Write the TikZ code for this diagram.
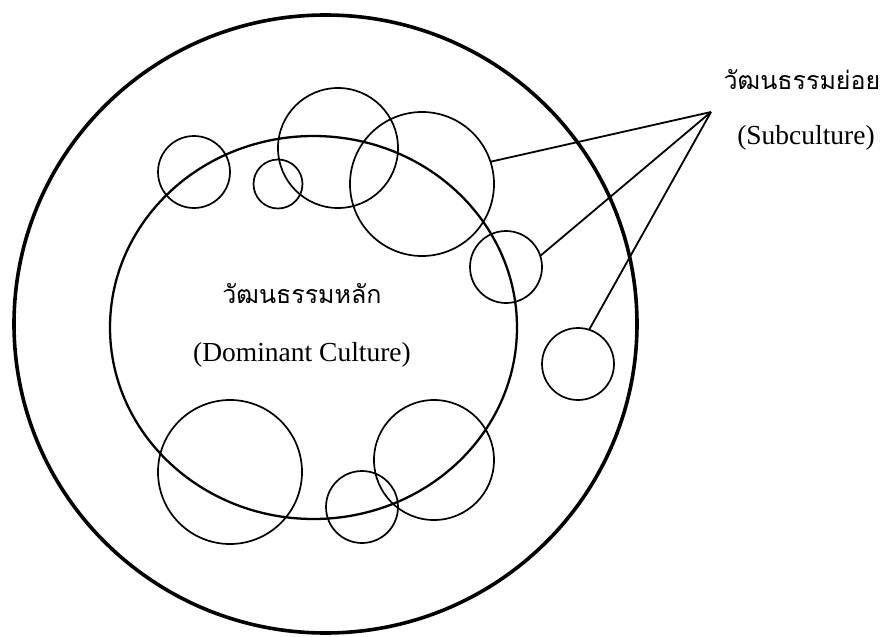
\documentclass[tikz,border=0pt]{standalone}
\usepackage{fontspec}
\setmainfont{Liberation Serif}
\newfontfamily\thaifont[Script=Thai]{Loma}
\usetikzlibrary{shapes.geometric}
\tikzset{
  ring/.style={ellipse,draw=black,inner sep=0pt,outer sep=0pt},
  sub/.style={circle,draw=black,line width=1.7pt,inner sep=0pt,outer sep=0pt,minimum size=#1},
  sub/.default=72pt,
  link/.style={draw=black,line width=1.8pt},
  thai/.style={font=\thaifont\fontsize{25}{29}\selectfont,inner sep=0pt},
  eng/.style={font=\fontsize{27.5}{32}\selectfont,inner sep=0pt},
}
\begin{document}
\begin{tikzpicture}[x=1pt,y=-1pt]
  \useasboundingbox (0,0) rectangle (892,637);
  % culture rings
  \node[ring,line width=3.6pt,minimum width=623pt,minimum height=618pt] (O) at (325.5,324) {};
  \node[ring,line width=2.3pt,minimum width=407pt,minimum height=383pt] (I) at (313.5,327.5) {};
  % subcultures
  \node[sub] (s1) at (194,172) {};
  \node[sub=49pt] (s2) at (278,184) {};
  \node[sub=120pt] (s3) at (338,148) {};
  \node[sub=144pt] (s4) at (422,184) {};
  \node[sub] (s5) at (506,267) {};
  \node[sub] (s6) at (578,364) {};
  \node[sub=144pt] (s7) at (230,472) {};
  \node[sub] (s8) at (362,507) {};
  \node[sub=120pt] (s9) at (434,460) {};
  % labels
  \node[thai] (subth) at (802,80) {วัฒนธรรมย่อย};
  \node[eng] (suben) at (806,138) {(Subculture)};
  \node[thai] (domth) at (302,294) {วัฒนธรรมหลัก};
  \node[eng] (domen) at (302,355) {(Dominant Culture)};
  \coordinate (hub) at (711,112);
  \draw[link] (hub) -- (s4.18);
  \draw[link] (hub) -- (s5.18);
  \draw[link] (hub) -- (s6.72);
\end{tikzpicture}
\end{document}
